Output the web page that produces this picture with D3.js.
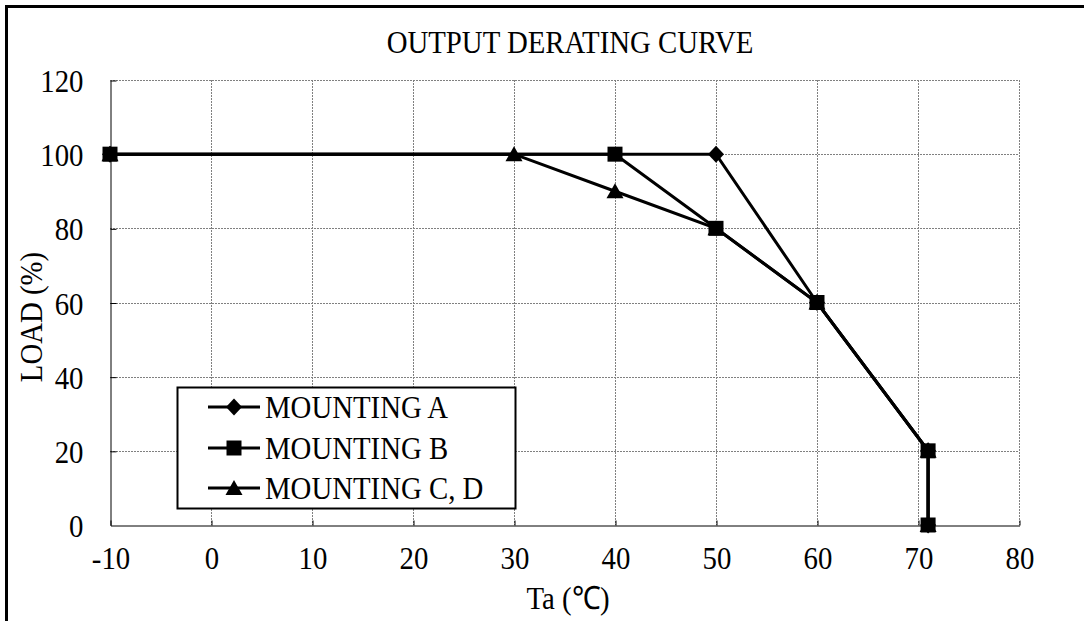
<!DOCTYPE html>
<html><head><meta charset="utf-8">
<script src="https://cdn.jsdelivr.net/npm/d3@7"></script>
<style>html,body{margin:0;padding:0;background:#fff;}svg{display:block;}</style>
</head><body>
<script>
const title = "OUTPUT DERATING CURVE";
const xTitle = "Ta (\u2103)";
const yTitle = "LOAD (%)";
const xTicks = [-10, 0, 10, 20, 30, 40, 50, 60, 70, 80];
const yTicks = [0, 20, 40, 60, 80, 100, 120];
const seriesNames = ["MOUNTING A", "MOUNTING B", "MOUNTING C, D"];
const seriesSymbols = ["diamond", "square", "triangle"];
const aX = [-10, 50, 60, 71, 71];
const aY = [100, 100, 60, 20, 0];
const bX = [-10, 40, 50, 60, 71, 71];
const bY = [100, 100, 80, 60, 20, 0];
const cX = [-10, 30, 40, 50, 60, 71, 71];
const cY = [100, 100, 90, 80, 60, 20, 0];

const W = 1084, H = 621;
const font = "'Liberation Serif','Times New Roman',serif";
const FS = 32, SX = 0.9;
const svg = d3.select("body").append("svg").attr("width", W).attr("height", H);
svg.append("rect").attr("width", W).attr("height", H).attr("fill", "#fff");
// outer frame (left and top visible)
svg.append("rect").attr("x", 6.5).attr("y", 6.5).attr("width", W + 20).attr("height", H + 20)
  .attr("fill", "none").attr("stroke", "#000").attr("stroke-width", 3);

const L = 110, R = 1019, T = 80, B = 525;
const x = d3.scaleLinear().domain([-10, 80]).range([L, R]);
const y = d3.scaleLinear().domain([0, 120]).range([B, T]);

// grid
const grid = svg.append("g").attr("stroke", "#808080").attr("stroke-width", 1).attr("stroke-dasharray", "2,1");
grid.selectAll("line.v").data(xTicks.slice(1)).join("line")
  .attr("x1", d => Math.round(x(d)) + 0.5).attr("x2", d => Math.round(x(d)) + 0.5)
  .attr("y1", T).attr("y2", B);
grid.selectAll("line.h").data(yTicks.slice(1)).join("line")
  .attr("y1", d => Math.round(y(d)) + 0.5).attr("y2", d => Math.round(y(d)) + 0.5)
  .attr("x1", L).attr("x2", R);

// axes
const fmt = d => String(d);
const xAxis = d3.axisBottom(x).tickValues(xTicks).tickFormat(fmt).tickSize(-5).tickSizeOuter(0).tickPadding(14);
const yAxis = d3.axisLeft(y).tickValues(yTicks).tickFormat(fmt).tickSize(-6).tickSizeOuter(0).tickPadding(26);
const gx = svg.append("g").attr("transform", `translate(0.5,${Math.round(B)+0.5})`).call(xAxis);
const gy = svg.append("g").attr("transform", `translate(${L+0.5},0.5)`).call(yAxis);
[gx, gy].forEach(g => {
  g.select(".domain").attr("stroke", "#000").attr("stroke-width", 1);
  g.selectAll(".tick line").attr("stroke", "#000");
  g.selectAll(".tick text").attr("font-family", font).attr("font-size", FS).attr("fill", "#000");
});
gx.selectAll(".tick text").attr("dy", "0").attr("y", 0).attr("transform", `translate(0,43) scale(${SX},1)`);
gy.selectAll(".tick text").attr("dx", "0").attr("x", 0).attr("dy", "0").attr("transform", `translate(-27,11) scale(${SX},1)`);
gy.selectAll(".tick").filter(d => d === 0).select("line").remove();

function label(px, py, txt, rot) {
  svg.append("text")
    .attr("transform", `translate(${px},${py})` + (rot ? ` rotate(${rot})` : "") + ` scale(${SX},1)`)
    .attr("text-anchor", "middle").attr("font-family", font).attr("font-size", FS).attr("fill", "#000").text(txt);
}
label(570, 53, title);
label(568, 609, xTitle);
label(42, 317, yTitle, -90);

// series
const series = [
  {xs: aX, ys: aY, sym: "diamond"},
  {xs: bX, ys: bY, sym: "square"},
  {xs: cX, ys: cY, sym: "triangle"}
];
const line = d3.line().x(d => x(d[0])).y(d => y(d[1]));
series.forEach(s => {
  const pts = s.xs.map((v, i) => [v, s.ys[i]]);
  svg.append("path").datum(pts).attr("d", line).attr("fill", "none")
    .attr("stroke", "#000").attr("stroke-width", 3).attr("stroke-linejoin", "miter");
});
const symMap = {
  diamond: () => "M0,-8.5L8,0L0,8.5L-8,0Z",
  square: () => "M-7.5,-7.5H7.5V7.5H-7.5Z",
  triangle: () => "M0,-8L8.5,7L-8.5,7Z"
};
function drawMarkers(s) {
  const pts = s.xs.map((v, i) => [v, s.ys[i]]);
  svg.append("g").selectAll("path").data(pts).join("path")
    .attr("transform", d => `translate(${x(d[0])},${y(d[1])})`)
    .attr("d", symMap[s.sym]()).attr("fill", "#000");
}
drawMarkers(series[0]);
drawMarkers(series[2]);
drawMarkers(series[1]);

// legend
const lg = svg.append("g");
lg.append("rect").attr("x", 177.5).attr("y", 387.5).attr("width", 338).attr("height", 121)
  .attr("fill", "#fff").attr("stroke", "#000").attr("stroke-width", 2);
const rowY = [407, 448, 488];
seriesNames.forEach((n, i) => {
  const yy = rowY[i];
  lg.append("line").attr("x1", 208).attr("x2", 260).attr("y1", yy).attr("y2", yy)
    .attr("stroke", "#000").attr("stroke-width", 3);
  lg.append("path").attr("transform", `translate(234,${yy})`)
    .attr("d", symMap[seriesSymbols[i]]()).attr("fill", "#000");
  lg.append("text").attr("transform", `translate(265,${yy + 11}) scale(${SX},1)`).attr("font-family", font)
    .attr("font-size", FS).attr("fill", "#000").text(n);
});
</script>
</body></html>
